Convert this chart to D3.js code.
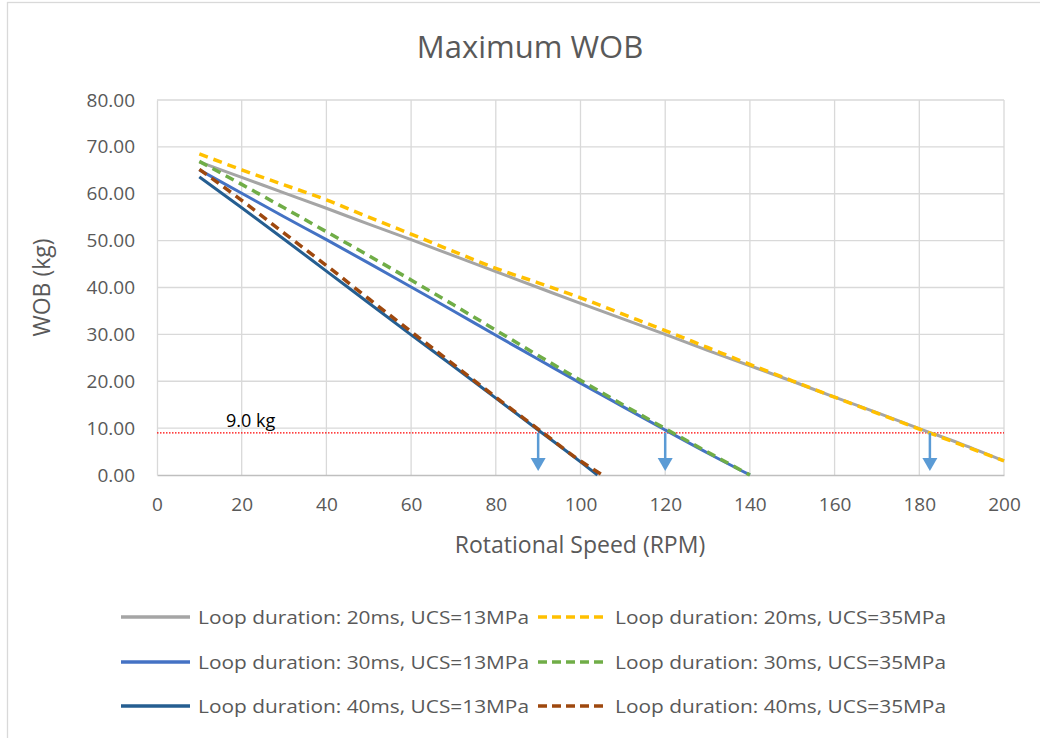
<!DOCTYPE html>
<html>
<head>
<meta charset="utf-8">
<script src="https://cdn.jsdelivr.net/npm/d3@7"></script>
<style>
  body { margin: 0; background: #fff; }
  svg { display: block; }
</style>
</head>
<body>
<svg id="chart"></svg>
<script>
// data
var rpm20 = [10, 20, 30, 40, 50, 60, 70, 80, 90, 100, 110, 120, 130, 140, 150, 160, 170, 180, 190, 200];
var rpm30 = [10, 20, 30, 40, 50, 60, 70, 80, 90, 100, 110, 120, 130, 140];
var rpm40a = [10, 20, 30, 40, 50, 60, 70, 80, 90, 100, 104.0];
var rpm40b = [10, 20, 30, 40, 50, 60, 70, 80, 90, 100, 105.2];

var wob20_13 = [66.8, 63.5, 60.2, 56.9, 53.5, 50.2, 46.8, 43.4, 40.0, 36.6, 33.3, 30.0, 26.6, 23.3, 20.0, 16.6, 13.3, 9.9, 6.6, 3.0];
var wob20_35 = [68.5, 65.1, 61.9, 58.7, 55.0, 51.4, 47.7, 44.1, 41.0, 37.8, 34.3, 30.8, 27.2, 23.6, 20.1, 16.6, 13.2, 9.8, 6.4, 3.0];
var wob30_13 = [65.1, 60.1, 55.1, 50.2, 45.2, 40.1, 35.0, 29.8, 24.7, 19.6, 14.6, 9.6, 4.7, 0.0];
var wob30_35 = [66.9, 62.0, 57.0, 51.9, 46.8, 41.6, 36.3, 30.9, 25.5, 20.2, 15.0, 9.9, 4.9, 0.0];
var wob40_13 = [63.6, 57.0, 50.3, 43.5, 36.7, 29.9, 23.2, 16.4, 9.6, 2.8, 0.0];
var wob40_35 = [65.2, 58.6, 51.6, 44.7, 37.6, 30.6, 23.6, 16.6, 9.8, 3.0, 0.0];

var seriesNames = [
  "Loop duration: 20ms, UCS=13MPa", "Loop duration: 20ms, UCS=35MPa",
  "Loop duration: 30ms, UCS=13MPa", "Loop duration: 30ms, UCS=35MPa",
  "Loop duration: 40ms, UCS=13MPa", "Loop duration: 40ms, UCS=35MPa"
];
var seriesColors = ["#A5A5A5", "#FFC000", "#4472C4", "#70AD47", "#255E91", "#9E480E"];
var seriesDashed = [false, true, false, true, false, true];

var limitWob = 9.0;
var limitRpm = [90, 120, 182.5];

var xTicks = [0, 20, 40, 60, 80, 100, 120, 140, 160, 180, 200];
var yTicks = [0, 10, 20, 30, 40, 50, 60, 70, 80];

var series = [
  { x: rpm20, y: wob20_13 }, { x: rpm20, y: wob20_35 },
  { x: rpm30, y: wob30_13 }, { x: rpm30, y: wob30_35 },
  { x: rpm40a, y: wob40_13 }, { x: rpm40b, y: wob40_35 }
];

var width = 1040, height = 738;
var plot = { left: 157, right: 1004, top: 100, bottom: 475 };

var svg = d3.select("#chart").attr("width", width).attr("height", height);

// outer chart border
svg.append("rect")
  .attr("x", 7.5).attr("y", 2.5)
  .attr("width", width).attr("height", height)
  .attr("fill", "#fff").attr("stroke", "#d9d9d9").attr("stroke-width", 1.3);

var x = d3.scaleLinear().domain([0, 200]).range([plot.left, plot.right]);
var y = d3.scaleLinear().domain([0, 80]).range([plot.bottom, plot.top]);

// gridlines
svg.append("g").selectAll("line").data(yTicks.slice(1)).enter().append("line")
  .attr("x1", plot.left).attr("x2", plot.right)
  .attr("y1", function (d) { return y(d); }).attr("y2", function (d) { return y(d); })
  .attr("stroke", "#d9d9d9").attr("stroke-width", 1.3);
svg.append("g").selectAll("line").data(xTicks.slice(1)).enter().append("line")
  .attr("x1", function (d) { return x(d); }).attr("x2", function (d) { return x(d); })
  .attr("y1", plot.top).attr("y2", plot.bottom)
  .attr("stroke", "#d9d9d9").attr("stroke-width", 1.3);

// axes
var xAxis = d3.axisBottom(x).tickValues(xTicks).tickSize(0).tickPadding(23);
var yAxis = d3.axisLeft(y).tickValues(yTicks).tickSize(0).tickPadding(22)
  .tickFormat(d3.format(".2f"));

var gx = svg.append("g").attr("transform", "translate(0," + plot.bottom + ")").call(xAxis);
var gy = svg.append("g").attr("transform", "translate(" + plot.left + ",0)").call(yAxis);
gx.select(".domain").attr("stroke", "#bfbfbf").attr("stroke-width", 1.5);
gy.select(".domain").attr("stroke", "#d9d9d9").attr("stroke-width", 1.3);
[gx, gy].forEach(function (g) {
  g.selectAll("text")
    .style("font-family", "'Open Sans', sans-serif")
    .style("font-size", "19px")
    .attr("fill", "#595959");
});

// threshold line + label
svg.append("line")
  .attr("x1", x(0)).attr("x2", x(200))
  .attr("y1", y(limitWob)).attr("y2", y(limitWob))
  .attr("stroke", "#ff0000").attr("stroke-width", 1.2)
  .attr("stroke-dasharray", "1.5,1.5");
svg.append("text")
  .attr("x", 226).attr("y", y(limitWob) - 6)
  .style("font-family", "'Open Sans', sans-serif")
  .style("font-size", "18px")
  .attr("fill", "#000")
  .text(limitWob.toFixed(1) + " kg");

// series lines
var line = d3.line()
  .x(function (d) { return x(d[0]); })
  .y(function (d) { return y(d[1]); })
  .curve(d3.curveMonotoneX);

series.forEach(function (s, i) {
  var pts = s.x.map(function (v, j) { return [v, s.y[j]]; });
  svg.append("path")
    .datum(pts)
    .attr("d", line)
    .attr("fill", "none")
    .attr("stroke", seriesColors[i])
    .attr("stroke-width", seriesDashed[i] ? 3.5 : 3)
    .attr("stroke-dasharray", seriesDashed[i] ? "9,6" : null);
});

// arrows at the 9 kg crossings
var arrowColor = "#5B9BD5";
var arrows = svg.append("g");
limitRpm.forEach(function (r) {
  var ax = x(r), top = y(limitWob), tip = plot.bottom - 4;
  arrows.append("line")
    .attr("x1", ax).attr("x2", ax)
    .attr("y1", top).attr("y2", tip - 12)
    .attr("stroke", arrowColor).attr("stroke-width", 2.5);
  arrows.append("path")
    .attr("d", "M" + (ax - 7.5) + "," + (tip - 13) + "L" + (ax + 7.5) + "," + (tip - 13) + "L" + ax + "," + tip + "Z")
    .attr("fill", arrowColor);
});

// titles
svg.append("text")
  .attr("x", 530).attr("y", 58)
  .attr("text-anchor", "middle")
  .style("font-family", "'Open Sans', sans-serif")
  .style("font-size", "31px")
  .attr("fill", "#595959")
  .text("Maximum WOB");

svg.append("text")
  .attr("x", 580).attr("y", 553)
  .attr("text-anchor", "middle")
  .style("font-family", "'Open Sans', sans-serif")
  .style("font-size", "23px")
  .attr("fill", "#595959")
  .text("Rotational Speed (RPM)");

svg.append("text")
  .attr("transform", "translate(50," + ((plot.top + plot.bottom) / 2) + ") rotate(-90)")
  .attr("text-anchor", "middle")
  .style("font-family", "'Open Sans', sans-serif")
  .style("font-size", "23px")
  .attr("fill", "#595959")
  .text("WOB (kg)");

// legend
var legendRows = [617, 662, 706];
var legendCols = [121, 538];
seriesNames.forEach(function (name, i) {
  var lx = legendCols[i % 2], ly = legendRows[Math.floor(i / 2)];
  svg.append("line")
    .attr("x1", lx).attr("x2", lx + 69)
    .attr("y1", ly).attr("y2", ly)
    .attr("stroke", seriesColors[i])
    .attr("stroke-width", 3.5)
    .attr("stroke-dasharray", seriesDashed[i] ? "9,5" : null);
  svg.append("text")
    .attr("x", lx + 77).attr("y", ly + 7)
    .attr("textLength", 331)
    .attr("lengthAdjust", "spacingAndGlyphs")
    .style("font-family", "'Open Sans', sans-serif")
    .style("font-size", "18.5px")
    .attr("fill", "#595959")
    .text(name);
});
</script>
</body>
</html>
